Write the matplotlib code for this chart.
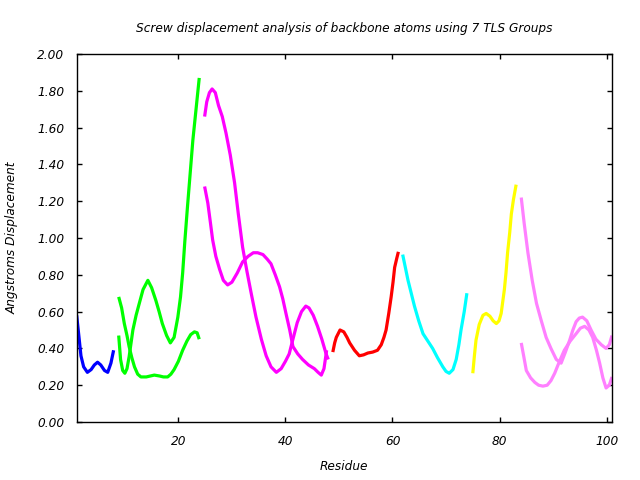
#!/usr/bin/env python3

import matplotlib
matplotlib.use("Agg")
import matplotlib.pyplot as plt
import matplotlib.ticker as mtick

# screw displacement per TLS group, two traces per group
blue_x = [1.0, 1.4, 1.8, 2.3, 3.0, 3.7, 4.3, 4.9, 5.5, 6.2, 6.8, 7.4, 7.9]
blue_y = [0.58, 0.47, 0.36, 0.30, 0.27, 0.285, 0.31, 0.325, 0.31, 0.28, 0.27, 0.32, 0.39]

green1_x = [8.85, 9.2, 9.6, 10.0, 10.4, 10.8, 11.5, 12.1, 12.7, 13.4, 14.3, 15.0, 15.8, 16.4,
            17.0, 17.8, 18.5, 19.2, 19.9, 20.4, 20.8, 21.2, 21.7, 22.2, 22.7, 23.3, 23.9]
green1_y = [0.47, 0.34, 0.28, 0.265, 0.29, 0.355, 0.50, 0.58, 0.645, 0.72, 0.77, 0.73, 0.66, 0.60,
            0.535, 0.47, 0.43, 0.46, 0.57, 0.68, 0.81, 0.98, 1.17, 1.35, 1.53, 1.70, 1.87]
green2_x = [8.85, 9.4, 9.9, 10.4, 10.8, 11.3, 11.8, 12.4, 13.0, 14.0, 15.5, 16.5, 17.2, 18.0,
            18.6, 19.2, 20.0, 20.8, 21.6, 22.3, 23.0, 23.5, 23.9]
green2_y = [0.68, 0.62, 0.535, 0.47, 0.41, 0.35, 0.30, 0.26, 0.245, 0.245, 0.255, 0.25, 0.245, 0.245,
            0.26, 0.285, 0.33, 0.39, 0.44, 0.475, 0.49, 0.485, 0.45]

mag1_x = [24.9, 25.3, 25.8, 26.3, 26.9, 27.5, 28.2, 28.9, 29.7, 30.5, 31.2, 32.0, 32.8, 33.6, 34.5, 35.5,
          36.4, 37.3, 38.3, 39.2, 40.0, 40.7, 41.4, 42.2, 43.0, 43.8, 44.4, 45.2, 46.0, 46.8, 47.6, 48.0]
mag1_y = [1.66, 1.74, 1.79, 1.81, 1.79, 1.72, 1.66, 1.57, 1.45, 1.30, 1.13, 0.95, 0.82, 0.70, 0.57, 0.45,
          0.36, 0.30, 0.27, 0.29, 0.33, 0.37, 0.45, 0.54, 0.60, 0.63, 0.62, 0.58, 0.52, 0.45, 0.37, 0.34]
mag2_x = [24.9, 25.5, 26.0, 26.4, 27.0, 27.7, 28.4, 29.2, 30.0, 31.0, 32.0, 33.0, 34.0, 34.8, 35.8, 36.6,
          37.3, 38.1, 38.9, 39.5, 40.1, 40.8, 41.4, 42.3, 43.2, 44.3, 45.4, 46.1, 46.7, 47.2, 47.7]
mag2_y = [1.28, 1.19, 1.08, 0.99, 0.90, 0.83, 0.77, 0.745, 0.76, 0.81, 0.87, 0.90, 0.92, 0.92, 0.91, 0.885,
          0.86, 0.80, 0.735, 0.67, 0.59, 0.50, 0.41, 0.37, 0.34, 0.31, 0.29, 0.27, 0.255, 0.29, 0.39]

red_x = [48.85, 49.2, 49.5, 50.2, 50.9, 51.5, 52.0, 52.9, 53.8, 54.6, 55.4, 56.3, 57.2, 57.9, 58.4,
         58.8, 59.3, 59.75, 60.1, 60.4, 60.8, 61.1]
red_y = [0.38, 0.43, 0.46, 0.50, 0.49, 0.46, 0.43, 0.39, 0.36, 0.365, 0.375, 0.38, 0.39, 0.42, 0.46,
         0.50, 0.59, 0.68, 0.76, 0.84, 0.89, 0.925]

cyan_x = [61.9, 62.4, 62.9, 63.5, 64.1, 64.9, 65.7, 66.6, 67.5, 68.4, 69.4, 70.0, 70.6, 71.3, 71.9,
          72.4, 72.8, 73.4, 73.9]
cyan_y = [0.91, 0.84, 0.77, 0.70, 0.63, 0.55, 0.48, 0.44, 0.40, 0.35, 0.30, 0.275, 0.265, 0.285, 0.34,
          0.42, 0.50, 0.60, 0.70]

yellow_x = [75.0, 75.3, 75.6, 76.2, 76.9, 77.5, 78.2, 78.8, 79.4, 79.9, 80.3, 80.9, 81.2, 81.5, 81.9,
            82.2, 82.6, 83.1]
yellow_y = [0.265, 0.36, 0.445, 0.53, 0.58, 0.59, 0.575, 0.55, 0.535, 0.55, 0.59, 0.72, 0.81, 0.92, 1.03,
            1.13, 1.21, 1.29]

pink1_x = [84.05, 84.6, 85.3, 86.1, 86.9, 87.8, 88.7, 89.6, 90.6, 91.5, 92.3, 93.1, 93.7, 94.3, 94.9,
           95.5, 96.3, 97.1, 98.0, 99.0, 99.9, 100.5, 101.0]
pink1_y = [1.22, 1.08, 0.92, 0.77, 0.645, 0.55, 0.46, 0.40, 0.34, 0.32, 0.38, 0.445, 0.50, 0.545, 0.565,
           0.57, 0.55, 0.50, 0.45, 0.42, 0.40, 0.42, 0.47]
pink2_x = [84.05, 84.5, 85.0, 85.8, 86.6, 87.3, 88.1, 88.9, 89.6, 90.3, 91.2, 92.1, 93.2, 94.3, 95.1,
           95.9, 96.7, 97.4, 98.1, 98.7, 99.3, 99.9, 100.5, 101.0]
pink2_y = [0.43, 0.36, 0.28, 0.24, 0.215, 0.20, 0.195, 0.20, 0.225, 0.265, 0.33, 0.39, 0.44, 0.48, 0.51,
           0.52, 0.50, 0.46, 0.39, 0.32, 0.24, 0.185, 0.20, 0.245]

series = [
    (blue_x, blue_y, "#0000ff"),
    (green1_x, green1_y, "#00ff00"),
    (green2_x, green2_y, "#00ff00"),
    (mag1_x, mag1_y, "#ff00ff"),
    (mag2_x, mag2_y, "#ff00ff"),
    (red_x, red_y, "#ff0000"),
    (cyan_x, cyan_y, "#00ffff"),
    (yellow_x, yellow_y, "#ffff00"),
    (pink1_x, pink1_y, "#ff80ff"),
    (pink2_x, pink2_y, "#ff80ff"),
]

FS = 8.7
plt.rcParams["font.family"] = "DejaVu Sans"
plt.rcParams["font.style"] = "oblique"

fig = plt.figure(figsize=(6.4, 4.8), dpi=100)
ax = fig.add_axes([0.1198, 0.1208, 0.8364, 0.7667])

for x, y, c in series:
    ax.plot(x, y, color=c, lw=2.3, solid_capstyle="butt", solid_joinstyle="round")

ax.set_xlim(1, 101)
ax.set_ylim(0, 2.0)
ax.set_xticks([20, 40, 60, 80, 100])
ax.set_yticks([0.2 * i for i in range(11)])
ax.yaxis.set_major_formatter(mtick.FormatStrFormatter("%.2f"))
ax.tick_params(direction="in", length=3.5, width=1, top=True, right=True,
               labelsize=FS, colors="black")
ax.tick_params(axis="y", pad=9)
ax.tick_params(axis="x", pad=9)
for s in ax.spines.values():
    s.set_linewidth(1)

ax.set_title("Screw displacement analysis of backbone atoms using 7 TLS Groups",
             fontsize=FS, style="oblique", pad=16)
ax.set_xlabel("Residue", fontsize=FS, style="oblique", labelpad=9)
ax.set_ylabel("Angstroms Displacement", fontsize=FS, style="oblique", labelpad=13)

plt.savefig("out.png", dpi=100)
